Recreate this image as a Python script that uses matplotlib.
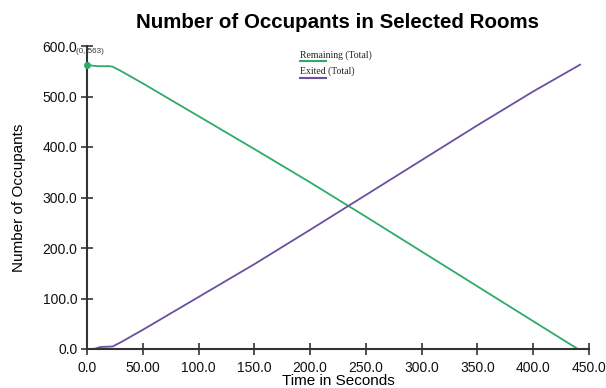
import matplotlib
matplotlib.use("Agg")
import matplotlib.pyplot as plt
from matplotlib.lines import Line2D

plt.rcParams['font.family'] = ['Liberation Sans', 'DejaVu Sans']

# Occupants still inside the selected rooms over time
remaining_t = [0, 5, 10, 15, 20, 23, 30, 50, 100, 150, 200, 250, 300, 350, 400, 440]
remaining = [563, 561, 560, 560, 560, 559, 551, 526, 461, 396, 330, 262, 193, 124, 55, 0]

# Occupants that have left the selected rooms
exited_t = [0, 5, 8, 12, 23, 30, 50, 100, 150, 200, 250, 300, 350, 400, 442]
exited = [0, 0, 1, 4, 5, 13, 38, 103, 168, 236, 305, 374, 443, 510, 563]

x_ticks = [0, 50, 100, 150, 200, 250, 300, 350, 400, 450]
x_tick_labels = ["0.0", "50.00", "100.0", "150.0", "200.0", "250.0",
                 "300.0", "350.0", "400.0", "450.0"]
y_ticks = [0, 100, 200, 300, 400, 500, 600]
y_tick_labels = ["0.0", "100.0", "200.0", "300.0", "400.0", "500.0", "600.0"]

series_labels = ["Remaining (Total)", "Exited (Total)"]
green = "#2eaa6a"
purple = "#6b4fa0"

W, H = 606, 388
fig = plt.figure(figsize=(W / 100, H / 100), dpi=100, facecolor="white")
ax = fig.add_axes([87 / W, (H - 349) / H, (589 - 87) / W, (349 - 46) / H])
ax.set_facecolor("white")

ax.plot(remaining_t, remaining, color=green, lw=1.3)
ax.plot(exited_t, exited, color=purple, lw=1.3)

# starting point marker with its value
ax.plot([remaining_t[0]], [remaining[0]], "o", color=green, ms=4, clip_on=False, zorder=5)
ax.annotate(f"({remaining_t[0]}, {remaining[0]})", (remaining_t[0], remaining[0]),
            xytext=(2, 7), textcoords="offset points", ha="center", va="bottom",
            fontsize=5.8, color="#333333")

ax.set_xlim(0, 450)
ax.set_ylim(0, 600)
ax.set_xticks(x_ticks)
ax.set_xticklabels(x_tick_labels)
ax.set_yticks(y_ticks)
ax.set_yticklabels(y_tick_labels)

for side in ("top", "right"):
    ax.spines[side].set_visible(False)
for side in ("left", "bottom"):
    ax.spines[side].set_color("#333333")
    ax.spines[side].set_linewidth(1.5)

ax.tick_params(direction="inout", length=8, width=1.2, color="#333333",
               labelsize=10, labelcolor="#111111")
ax.tick_params(axis="y", pad=3)
ax.tick_params(axis="x", pad=4.5)

ax.set_xlabel("Time in Seconds", fontsize=11, labelpad=-0.5)
ax.set_ylabel("Number of Occupants", fontsize=11, labelpad=11.5)

fig.text(338 / W, 1 - 23 / H, "Number of Occupants in Selected Rooms",
         ha="center", va="center", fontsize=14.8, fontweight="bold")

# legend entries: label text with a coloured stroke underneath
for label, color, ty, ly in [(series_labels[0], green, 55, 61),
                             (series_labels[1], purple, 71.5, 77.7)]:
    fig.text(300 / W, 1 - ty / H, label, ha="left", va="center",
             fontsize=7, family=["Liberation Serif", "DejaVu Serif"], color="#222222")
    fig.add_artist(Line2D([300 / W, 326 / W], [1 - ly / H, 1 - ly / H],
                          color=color, lw=1.5, transform=fig.transFigure))

fig.savefig("out.png", dpi=100, facecolor="white")
